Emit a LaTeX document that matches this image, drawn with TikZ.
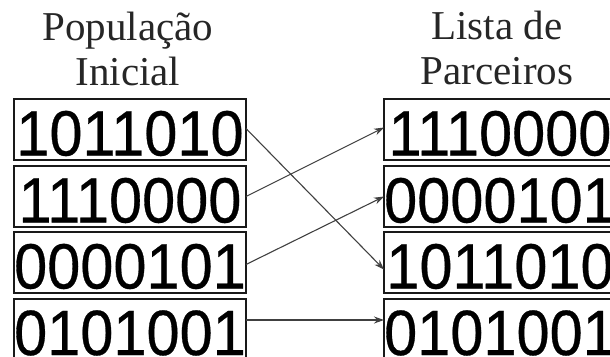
\documentclass[tikz,border=0pt]{standalone}
\usepackage{fontspec}
\setmainfont{Liberation Serif}
\newfontfamily\digitfont[FakeBold=0.5]{Liberation Sans}
\usetikzlibrary{arrows.meta}
\tikzset{
  chrom/.style={draw=black!90, line width=2pt, minimum width=232pt, minimum height=60.5pt,
    inner sep=0pt, outer sep=0pt, anchor=center,
    font=\digitfont\fontsize{64}{64}\selectfont},
  head/.style={anchor=base, inner sep=0pt, text=black!85, font=\fontsize{41}{41}\selectfont},
  link/.style={draw=black!75, line width=1.1pt, -{Stealth[length=10pt,width=7pt]}}
}
\newcommand{\bits}[1]{\raisebox{-26pt}[0pt][0pt]{\scalebox{0.93}[1]{#1}}}
\begin{document}
\begin{tikzpicture}[x=1pt,y=-1pt]
\useasboundingbox (0,0) rectangle (610,356);
\node[head] (pop1) at (128,40) {População};
\node[head] (pop2) at (128,85) {Inicial};
\node[head] (lis1) at (497,39) {Lista de};
\node[head] (lis2) at (497,84) {Parceiros};
% left column
\node[chrom] (l1) at (130,129.5) {\bits{1011010}};
\node[chrom] (l2) at (130,196.5) {\bits{1110000}};
\node[chrom] (l3) at (130,262.5) {\bits{0000101}};
\node[chrom] (l4) at (130,329) {\bits{0101001}};
% right column
\node[chrom] (r1) at (500,129.5) {\bits{1110000}};
\node[chrom] (r2) at (500,196.5) {\bits{0000101}};
\node[chrom] (r3) at (500,262.5) {\bits{1011010}};
\node[chrom] (r4) at (500,329) {\bits{0101001}};
% connectors
\draw[link] ([yshift=1pt]l1.east) -- ([yshift=-7pt]r3.west);
\draw[link] (l2.east) -- ([yshift=2pt]r1.west);
\draw[link] ([yshift=-2pt]l3.east) -- (r2.west);
\draw[link] ([yshift=9pt]l4.east) -- ([yshift=9pt]r4.west);
\end{tikzpicture}
\end{document}
